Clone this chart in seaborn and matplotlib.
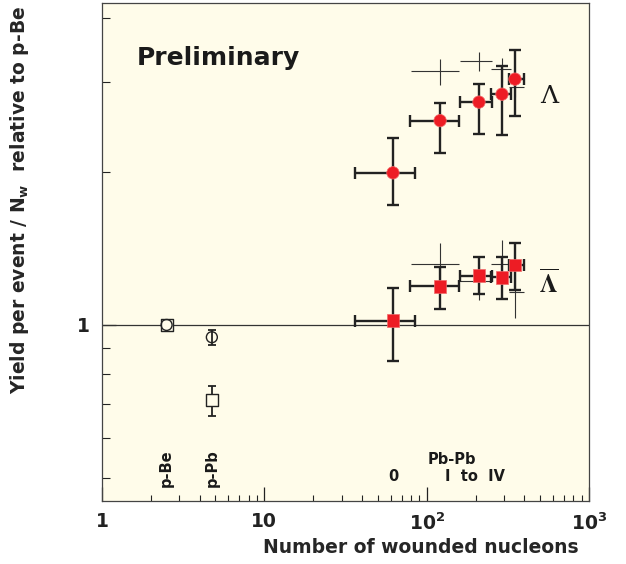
import numpy as np
import pandas as pd
import matplotlib
matplotlib.use("Agg")
import matplotlib.pyplot as plt
import matplotlib.transforms as mtransforms
from matplotlib.ticker import NullFormatter
import seaborn as sns

# ---- Pb-Pb centrality classes (0, I..IV): wounded nucleons and x-extent ----
nw_pbpb = [62, 121, 210, 291, 350]
nw_lo = [36, 79, 160, 249, 322]
nw_hi = [85, 159, 252, 331, 395]

# Lambda yields per event / N_w relative to p-Be
lam = [1.99, 2.52, 2.74, 2.84, 3.04]
lam_lo = [1.72, 2.18, 2.37, 2.36, 2.57]
lam_hi = [2.33, 2.73, 2.98, 3.22, 3.47]

# anti-Lambda yields per event / N_w relative to p-Be
alam = [1.02, 1.19, 1.25, 1.24, 1.31]
alam_lo = [0.85, 1.075, 1.15, 1.125, 1.17]
alam_hi = [1.18, 1.30, 1.36, 1.36, 1.45]

# earlier measurement, centralities I..IV (thin crosses)
nw_ref = [121, 210, 291, 350]
nw_ref_lo = [80, 160, 249, 322]
nw_ref_hi = [159, 252, 331, 395]
lam_ref = [3.16, 3.30, 3.18, 2.94]
lam_ref_lo = [2.96, 3.15, 3.00, 2.80]
lam_ref_hi = [3.33, 3.44, 3.35, 3.08]
alam_ref = [1.32, 1.22, 1.32, 1.16]
alam_ref_lo = [1.20, 1.12, 1.19, 1.03]
alam_ref_hi = [1.45, 1.32, 1.47, 1.30]

# p-Be and p-Pb reference points
nw_pa = [2.5, 4.75]
pa_labels = ["p-Be", "p-Pb"]
pa_lam = [1.0, 0.946]
pa_lam_lo = [1.0, 0.913]
pa_lam_hi = [1.0, 0.978]
pa_alam = [1.0, 0.712]
pa_alam_lo = [1.0, 0.663]
pa_alam_hi = [1.0, 0.759]

xticks = [1, 10, 100, 1000]
xtick_labels = ["1", "10", r"$\mathbf{10^{2}}$", r"$\mathbf{10^{3}}$"]

RED = "#ED1C24"
INK = "#222222"
PAPER = "#FFFCEA"

sns.set_theme(style="ticks")
plt.rcParams["font.family"] = ["DejaVu Sans"]
plt.rcParams["font.weight"] = "bold"
plt.rcParams["mathtext.fontset"] = "dejavusans"

fig = plt.figure(figsize=(6.26, 5.64), dpi=100)
ax = fig.add_axes([102 / 626, 1 - 501 / 564, 487 / 626, 498 / 564])
ax.set_facecolor(PAPER)
ax.set_xscale("log")
ax.set_yscale("log")
ax.set_xlim(1, 1000)
ax.set_ylim(0.451, 4.29)


def asym(v, lo, hi):
    v = np.asarray(v, float)
    return np.vstack([v - np.asarray(lo, float), np.asarray(hi, float) - v])


# reference line at unity
ax.axhline(1.0, color="#333333", lw=0.9, zorder=1)

# thin crosses of the earlier measurement
for yv, ylo, yhi in [(lam_ref, lam_ref_lo, lam_ref_hi), (alam_ref, alam_ref_lo, alam_ref_hi)]:
    ax.errorbar(nw_ref, yv, yerr=asym(yv, ylo, yhi),
                xerr=asym(nw_ref, nw_ref_lo, nw_ref_hi),
                fmt="none", ecolor="#333333", elinewidth=0.8, capsize=0, zorder=2)

# thick bars of the present measurement
for yv, ylo, yhi in [(lam, lam_lo, lam_hi), (alam, alam_lo, alam_hi)]:
    ax.errorbar(nw_pbpb, yv, yerr=asym(yv, ylo, yhi),
                xerr=asym(nw_pbpb, nw_lo, nw_hi),
                fmt="none", ecolor=INK, elinewidth=1.7, capsize=4.0,
                capthick=1.7, zorder=3)

pbpb = pd.DataFrame({
    "nw": nw_pbpb * 2,
    "y": lam + alam,
    "species": ["Lambda"] * 5 + ["antiLambda"] * 5,
})
sns.scatterplot(data=pbpb, x="nw", y="y", style="species",
                markers={"Lambda": "o", "antiLambda": "s"},
                color=RED, s=80, edgecolor="#F06A6A", linewidth=0.5,
                legend=False, ax=ax, zorder=4)

# p-Be / p-Pb open markers (squares first so the circles sit on top)
ax.errorbar(nw_pa, pa_lam, yerr=asym(pa_lam, pa_lam_lo, pa_lam_hi),
            fmt="none", ecolor=INK, elinewidth=1.3, capsize=3.0, capthick=1.3, zorder=3)
ax.errorbar(nw_pa, pa_alam, yerr=asym(pa_alam, pa_alam_lo, pa_alam_hi),
            fmt="none", ecolor=INK, elinewidth=1.3, capsize=3.0, capthick=1.3, zorder=3)
pa_sq = pd.DataFrame({"nw": nw_pa, "y": pa_alam})
pa_ci = pd.DataFrame({"nw": nw_pa, "y": pa_lam})
sns.scatterplot(data=pa_sq, x="nw", y="y", marker="s",
                facecolor=PAPER, edgecolor=INK, linewidth=1.0, s=75,
                legend=False, ax=ax, zorder=5)
sns.scatterplot(data=pa_ci, x="nw", y="y", marker="o",
                facecolor="none", edgecolor=INK, linewidth=1.0, s=62,
                legend=False, ax=ax, zorder=6)

# axes styling
ax.set_xticks(xticks, labels=xtick_labels)
ax.xaxis.set_minor_formatter(NullFormatter())
ax.set_yticks([1], labels=["1"])
ax.set_yticks([0.5, 0.6, 0.7, 0.8, 0.9, 2, 3, 4], minor=True)
ax.yaxis.set_minor_formatter(NullFormatter())
ax.tick_params(axis="x", which="major", direction="in", length=10, width=0.9,
               labelsize=13.5, pad=8, colors=INK)
ax.tick_params(axis="x", which="minor", direction="in", length=4.5, width=0.8, colors=INK)
ax.tick_params(axis="y", which="major", direction="in", length=10, width=0.9,
               labelsize=13.5, pad=9, colors=INK)
ax.tick_params(axis="y", which="minor", direction="in", length=5.5, width=0.8, colors=INK)
for lab in ax.get_xticklabels() + ax.get_yticklabels():
    lab.set_fontweight("bold")
for sp in ax.spines.values():
    sp.set_color("#444444")
    sp.set_linewidth(0.9)
    sp.set_visible(True)

ax.set_xlabel("Number of wounded nucleons", fontsize=13.5, fontweight="bold",
              ha="right")
ax.xaxis.set_label_coords(0.978, -0.075)
ax.set_ylabel(r"Yield per event / N$_\mathbf{w}$  relative to p-Be", fontsize=13.5,
              fontweight="bold", ha="right")
ax.yaxis.set_label_coords(-0.145, 0.995)

# annotations
ax.text(0.072, 0.8755, "Preliminary", transform=ax.transAxes, fontsize=18,
        fontweight="bold", ha="left", va="baseline", color="#1a1a1a")
ax.text(0.918, 0.812, "Λ", transform=ax.transAxes, fontsize=18,
        family="DejaVu Serif", fontweight="normal", ha="center", va="center",
        color="#1a1a1a")
ax.text(0.918, 0.4378, r"$\overline{\Lambda}$", transform=ax.transAxes,
        fontsize=18, math_fontfamily="stix", ha="center", va="center",
        color="#1a1a1a")

blend = mtransforms.blended_transform_factory(ax.transData, ax.transAxes)
for xv, txt in zip(nw_pa, pa_labels):
    ax.text(xv, 0.028, txt, transform=blend, rotation=90, fontsize=10.5,
            fontweight="bold", ha="center", va="bottom", color="#1a1a1a")
ax.text(143, 0.0837, "Pb-Pb", transform=blend, fontsize=10.5, fontweight="bold",
        ha="center", va="center", color="#1a1a1a")
ax.text(nw_pbpb[0], 0.049, "0", transform=blend, fontsize=10.5, fontweight="bold",
        ha="center", va="center", color="#1a1a1a")
ax.text(199, 0.049, "I  to  IV", transform=blend, fontsize=10.5, fontweight="bold",
        ha="center", va="center", color="#1a1a1a")

fig.savefig("out.png", dpi=100, facecolor="white")
